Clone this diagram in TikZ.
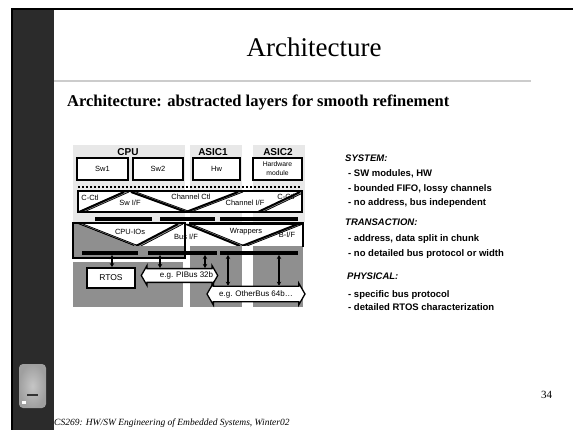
\documentclass[tikz,border=0pt]{standalone}
\usepackage{fontspec}
\setmainfont{Liberation Serif}
\setsansfont{Liberation Sans}
\usetikzlibrary{shapes.arrows,arrows.meta}
\definecolor{panelL}{gray}{0.91}
\definecolor{panelD}{gray}{0.56}
\definecolor{stripC}{gray}{0.17}
\definecolor{ruleC}{gray}{0.8}
\definecolor{bandC}{gray}{0.62}
\newcommand{\ribbonband}[4]{%
  \fill[bandC] (#1,#2) -- (#3,#4) -- ({#3+5},#4) -- ({#1+5},#2) -- cycle;
  \draw[line width=0.7pt] ({#1+5},#2) -- ({#3+5},#4);
  \draw[line width=2pt] (#1,#2) -- (#3,#4);}
\begin{document}
\begin{tikzpicture}[x=1pt,y=-1pt,
  lbl/.style={font=\sffamily\fontsize{7.5}{8}\selectfont, inner sep=0pt},
  ttl/.style={font=\sffamily\bfseries\fontsize{10}{11}\selectfont, inner sep=0pt},
  modbox/.style={draw, line width=1.5pt, fill=white, inner sep=0pt, font=\sffamily\fontsize{7.5}{8.5}\selectfont, align=center},
  conn/.style={line width=1.3pt, {Stealth[length=4pt,width=4.5pt]}-{Stealth[length=4pt,width=4.5pt]}},
  busarrow/.style={shape=double arrow, draw, line width=1.3pt, fill=white, double arrow head extend=3pt, double arrow tip angle=120, inner xsep=0pt, inner ysep=2.5pt, font=\sffamily\fontsize{8}{9}\selectfont},
  note/.style={anchor=base west, inner sep=0pt, font=\sffamily\bfseries\fontsize{9.5}{10}\selectfont},
  head/.style={anchor=base west, inner sep=0pt, font=\sffamily\bfseries\itshape\fontsize{9.5}{10}\selectfont},
  thickbox/.style={draw, line width=2.2pt},
]
\useasboundingbox (0,0) rectangle (573,430);
\fill[white] (0,0) rectangle (573,430);
% slide frame
\fill[stripC] (11,9) rectangle (54,430);
\draw[line width=1.7pt] (11.8,430) -- (11.8,9.2) -- (573,9.2);
% logo
\shade[inner color=gray!45, outer color=gray!75, rounded corners=4pt] (19,364) rectangle (46,408);
\fill[gray!40!black] (27,394) rectangle (38,396);
\fill[white] (22,401) rectangle (26,404);
% title
\node[anchor=base, inner sep=0pt, font=\fontsize{27}{30}\selectfont] (title) at (314,57) {Architecture};
\draw[ruleC, line width=1.3pt] (54,81) -- (531,81);
\node[anchor=base west, inner sep=0pt, font=\bfseries\fontsize{16.5}{18}\selectfont] (subtitle) at (67,107) {Architecture: abstracted layers for smooth refinement};
% footer
\node[anchor=base west, inner sep=0pt, font=\itshape\fontsize{9.5}{10}\selectfont] (footer) at (54,425) {CS269: HW/SW Engineering of Embedded Systems, Winter02};
\node[anchor=base west, inner sep=0pt, font=\fontsize{11}{12}\selectfont] (pagenum) at (541,398) {34};

% panels
\fill[panelL] (73,145) rectangle (185,222);
\fill[panelL] (190,145) rectangle (242,222);
\fill[panelL] (253,145) rectangle (305,222);
\fill[panelD] (73,262) rectangle (183,307);
\fill[panelD] (190,223) rectangle (242,307);
\fill[panelD] (253,223) rectangle (303,307);

% system layer
\node[ttl] (cpu) at (128,152) {CPU};
\node[ttl] (asic1) at (213,152) {ASIC1};
\node[ttl] (asic2) at (278,152) {ASIC2};
\node[modbox, minimum width=51, minimum height=22] (sw1) at (102.5,169) {Sw1};
\node[modbox, minimum width=50, minimum height=22] (sw2) at (158,169) {Sw2};
\node[modbox, minimum width=47, minimum height=22] (hw) at (216.5,169) {Hw};
\node[modbox, minimum width=49, minimum height=22, font=\sffamily\fontsize{6.8}{9}\selectfont] (hwmod) at (277.5,169) {Hardware\\module};
\draw[line width=2pt, dash pattern=on 2pt off 2pt] (78,187) -- (301,187);

% channel layer
\fill[white] (78,191) rectangle (302,212);
\begin{scope}
  \clip (78,191) rectangle (302,212);
  \ribbonband{79}{212}{124}{192}
  \ribbonband{131}{192}{186}{212}
  \ribbonband{186}{212}{238}{192}
  \ribbonband{258}{212}{300}{192}
\end{scope}
\draw[thickbox] (78,191) rectangle (302,212);
\node[lbl] (cctl1) at (90,198) {C-Ctl};
\node[lbl] (swif) at (130,203) {Sw I/F};
\node[lbl] (chctl) at (191,197) {Channel Ctl};
\node[lbl] (chif) at (245,203) {Channel I/F};
\node[lbl] (cctl2) at (286,197) {C-Ctl};
\fill (95,217) rectangle (152,221);
\fill (160,217) rectangle (215,221);
\fill (220,217) rectangle (298,221);

% transaction / physical layer
\fill[panelD] (73,223) rectangle (185,258);
\fill[white] (78,224) -- (303,224) -- (303,246) -- (134,246) -- cycle;
\begin{scope}
  \clip (78,224) -- (303,224) -- (303,246) -- (134,246) -- cycle;
  \ribbonband{78}{224}{134}{246}
  \ribbonband{136}{246}{178}{224}
  \ribbonband{186}{224}{240}{246}
  \ribbonband{242}{246}{298}{224}
\end{scope}
\draw[thickbox] (73,223) rectangle (185,258);
\draw[thickbox] (189,223.5) -- (303,223.5) -- (303,247);
\node[lbl] (cpuios) at (130,232) {CPU-IOs};
\node[lbl] (busif) at (186,237) {Bus I/F};
\node[lbl] (wrap) at (246,232) {Wrappers};
\node[lbl] (bif) at (287,235) {B-I/F};
\fill (82,251) rectangle (138,255);
\fill (148,251) rectangle (217,255);
\fill (220,251) rectangle (298,255);

% physical components
\node[modbox, line width=1.8pt, minimum width=48, minimum height=20, font=\sffamily\fontsize{8.5}{9}\selectfont] (rtos) at (111,278) {RTOS};
\node[busarrow, minimum height=75, minimum width=19] (pibus) at (179.5,275.5) {\hspace*{14pt}e.g. PIBus 32b};
\node[busarrow, minimum height=98, minimum width=22] (otherbus) at (256,294) {e.g. OtherBus 64b\ldots};

\coordinate (a1) at (112,255);
\coordinate (a2) at (160,255);
\coordinate (a3) at (205,255);
\coordinate (a4) at (228,255);
\coordinate (a5) at (279,255);
\draw[conn] (a1) -- (a1 |- rtos.north);
\draw[conn] (a2) -- (a2 |- pibus.north);
\draw[conn] (a3) -- (a3 |- pibus.north);
\draw[conn] (a4) -- (a4 |- otherbus.north);
\draw[conn] (a5) -- (a5 |- otherbus.north);

% notes
\node[head] (nsys) at (345,161.5) {SYSTEM:};
\node[note] (n1) at (348,176.5) {- SW modules, HW};
\node[note] (n2) at (348,191.5) {- bounded FIFO, lossy channels};
\node[note] (n3) at (348,205.5) {- no address, bus independent};
\node[head] (ntr) at (345,225.5) {TRANSACTION:};
\node[note] (n4) at (348,242) {- address, data split in chunk};
\node[note] (n5) at (348,257) {- no detailed bus protocol or width};
\node[head] (nph) at (347,279.5) {PHYSICAL:};
\node[note] (n6) at (348,297.5) {- specific bus protocol};
\node[note] (n7) at (348,310.5) {- detailed RTOS characterization};
\end{tikzpicture}
\end{document}
